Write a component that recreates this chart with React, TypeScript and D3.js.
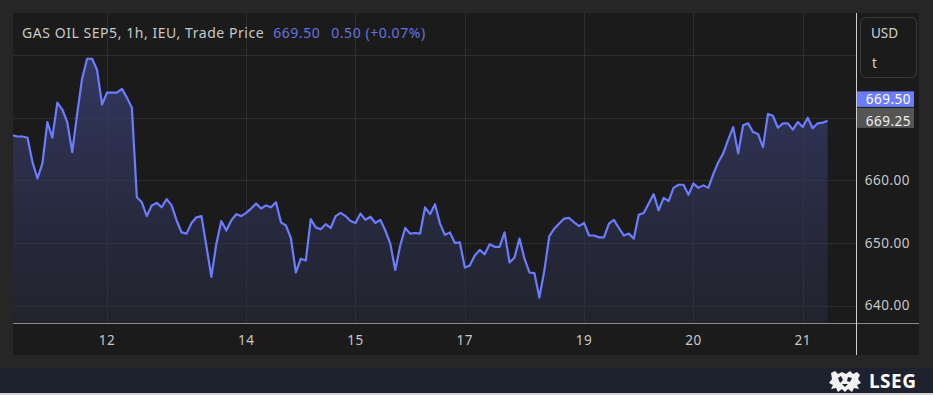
import React, { useRef, useEffect } from 'react';
import * as d3 from 'd3';

// hourly trade prices, GAS OIL SEP5
const prices = [
  667.2, 667.0, 667.0, 666.8, 662.9, 660.3, 662.7, 669.3, 666.8, 672.4,
  671.3, 669.3, 664.5, 670.7, 676.3, 679.4, 679.4, 677.6, 672.1, 674.0,
  674.0, 674.0, 674.6, 673.2, 671.6, 657.3, 656.5, 654.3, 656.0, 656.4,
  655.7, 657.0, 656.0, 653.6, 651.7, 651.5, 653.2, 654.1, 654.3, 649.5,
  644.6, 649.9, 653.5, 652.0, 653.6, 654.6, 654.3, 654.8, 655.5, 656.3,
  655.5, 656.0, 655.7, 656.5, 653.3, 652.8, 650.8, 645.3, 647.5, 647.2,
  653.8, 652.5, 652.2, 653.0, 652.4, 654.3, 654.8, 654.3, 653.5, 653.2,
  654.7, 653.7, 654.2, 653.2, 653.7, 652.0, 649.9, 645.7, 649.6, 652.4,
  651.5, 651.6, 651.5, 655.7, 654.6, 656.2, 653.1, 651.3, 651.7, 650.0,
  650.1, 646.1, 646.4, 648.0, 648.9, 648.2, 649.8, 649.4, 649.4, 651.7,
  646.9, 647.7, 650.7, 647.5, 645.3, 645.2, 641.3, 645.6, 651.1, 652.3,
  653.1, 653.9, 654.0, 653.3, 652.7, 653.2, 651.2, 651.2, 650.9, 650.9,
  653.1, 653.7, 652.4, 651.2, 651.5, 650.7, 654.5, 654.8, 656.3, 657.8,
  655.2, 657.2, 656.7, 658.8, 659.3, 659.3, 657.7, 659.5, 658.8, 659.2,
  658.8, 661.0, 662.9, 664.3, 666.5, 668.5, 664.3, 668.8, 669.1, 667.7,
  667.4, 665.3, 670.6, 670.3, 668.4, 669.1, 669.1, 668.1, 669.3, 668.5,
  670.0, 668.3, 669.1, 669.2, 669.5
];

// day labels and the bar index where each day starts
const dayLabels = ['12', '14', '15', '17', '19', '20', '21'];
const dayIndex = [19, 47, 69, 91, 115, 137, 159];

const priceTicks = [640, 650, 660];
const gridPrices = [640, 650, 660, 670, 680];

const lastPrice = 669.5;
const refPrice = 669.25;

function App() {
  const svgRef = useRef<SVGSVGElement>(null);

  useEffect(() => {
    document.body.style.margin = '0';
    document.body.style.background = '#262626';
    drawChart();
  }, []);

  const drawChart = () => {
    const svg = d3.select(svgRef.current);
    svg.selectAll('*').remove();

    const plot = { left: 13, right: 856, top: 13, bottom: 323 };
    const font = "'Noto Sans', 'Open Sans', sans-serif";
    const labelSize = '13.5px';
    const labelSpacing = '0.5px';

    const x = d3.scaleLinear().domain([0, prices.length - 1]).range([12.6, 827.6]);
    const y = d3.scaleLinear().domain([640, 680]).range([305.7, 55]);

    // page + panel backgrounds
    svg.append('rect').attr('width', 933).attr('height', 395).attr('fill', '#262626');
    svg.append('rect')
      .attr('x', 13).attr('y', 13).attr('width', 906).attr('height', 342)
      .attr('fill', '#1b1b1b');

    // footer
    svg.append('rect').attr('x', 0).attr('y', 368).attr('width', 933).attr('height', 26).attr('fill', '#1d222e');
    svg.append('rect').attr('x', 0).attr('y', 393).attr('width', 933).attr('height', 2).attr('fill', '#d6d6d6');

    const defs = svg.append('defs');
    defs.append('clipPath').attr('id', 'plot-clip')
      .append('rect')
      .attr('x', plot.left).attr('y', plot.top)
      .attr('width', plot.right - plot.left).attr('height', plot.bottom - plot.top);

    const grad = defs.append('linearGradient')
      .attr('id', 'area-grad').attr('x1', 0).attr('y1', 0).attr('x2', 0).attr('y2', 1);
    grad.append('stop').attr('offset', '0%').attr('stop-color', '#3a4278').attr('stop-opacity', 0.75);
    grad.append('stop').attr('offset', '100%').attr('stop-color', '#2a2d45').attr('stop-opacity', 0.45);

    // grid
    const grid = svg.append('g').attr('stroke', '#2e2e2e').attr('stroke-width', 1);
    grid.selectAll('line.h')
      .data(gridPrices)
      .join('line')
      .attr('x1', plot.left).attr('x2', plot.right)
      .attr('y1', d => Math.round(y(d)) + 0.5).attr('y2', d => Math.round(y(d)) + 0.5);
    grid.selectAll('line.v')
      .data(dayIndex)
      .join('line')
      .attr('y1', plot.top).attr('y2', plot.bottom)
      .attr('x1', d => Math.round(x(d)) + 0.5).attr('x2', d => Math.round(x(d)) + 0.5);

    // area + line
    const g = svg.append('g').attr('clip-path', 'url(#plot-clip)');
    const area = d3.area<number>()
      .x((d, i) => x(i))
      .y0(plot.bottom)
      .y1(d => y(d));
    const line = d3.line<number>()
      .x((d, i) => x(i))
      .y(d => y(d));

    g.append('path').datum(prices).attr('d', area).attr('fill', 'url(#area-grad)');
    g.append('path').datum(prices)
      .attr('d', line)
      .attr('fill', 'none')
      .attr('stroke', '#6b7cff')
      .attr('stroke-width', 2.2)
      .attr('stroke-linejoin', 'round');

    // axis lines
    svg.append('line')
      .attr('x1', plot.left).attr('x2', 919)
      .attr('y1', plot.bottom + 0.5).attr('y2', plot.bottom + 0.5)
      .attr('stroke', '#8c8c8c');
    svg.append('line')
      .attr('x1', plot.right + 0.5).attr('x2', plot.right + 0.5)
      .attr('y1', plot.top).attr('y2', 355)
      .attr('stroke', '#cfcfcf');

    // x labels
    svg.append('g')
      .selectAll('text')
      .data(dayLabels)
      .join('text')
      .attr('x', (d, i) => x(dayIndex[i]))
      .attr('y', 340)
      .attr('dy', '0.35em')
      .attr('text-anchor', 'middle')
      .style('font-family', font)
      .style('font-size', labelSize)
      .style('letter-spacing', labelSpacing)
      .style('fill', '#c8c8c8')
      .text(d => d);

    // y labels
    svg.append('g')
      .selectAll('text')
      .data(priceTicks)
      .join('text')
      .attr('x', 910)
      .attr('y', d => y(d))
      .attr('dy', '0.35em')
      .attr('text-anchor', 'end')
      .style('font-family', font)
      .style('font-size', labelSize)
      .style('letter-spacing', labelSpacing)
      .style('fill', '#c8c8c8')
      .text(d => d.toFixed(2));

    // currency / unit box
    svg.append('rect')
      .attr('x', 860.5).attr('y', 17.5).attr('width', 56).attr('height', 60).attr('rx', 5)
      .attr('fill', '#1b1b1b').attr('stroke', '#3a3a3a');
    svg.append('text')
      .attr('x', 871).attr('y', 33).attr('dy', '0.35em')
      .style('font-family', font).style('font-size', labelSize).style('fill', '#d0d0d0')
      .text('USD');
    svg.append('text')
      .attr('x', 872).attr('y', 63).attr('dy', '0.35em')
      .style('font-family', font).style('font-size', labelSize).style('fill', '#d0d0d0')
      .text('t');

    // price tags
    const refY = y(refPrice);
    svg.append('rect')
      .attr('x', plot.right + 1).attr('y', refY - 14.5).attr('width', 57).attr('height', 20)
      .attr('fill', '#555555');
    svg.append('text')
      .attr('x', 911).attr('y', refY - 1).attr('dy', '0.35em').attr('text-anchor', 'end')
      .style('font-family', font).style('font-size', labelSize).style('letter-spacing', labelSpacing)
      .style('fill', '#f0f0f0')
      .text(refPrice.toFixed(2));
    svg.append('rect')
      .attr('x', plot.right + 1).attr('y', refY - 31).attr('width', 57).attr('height', 15.5)
      .attr('fill', '#6b7cff');
    svg.append('text')
      .attr('x', 911).attr('y', refY - 23).attr('dy', '0.35em').attr('text-anchor', 'end')
      .style('font-family', font).style('font-size', labelSize).style('letter-spacing', labelSpacing)
      .style('fill', '#ffffff')
      .text(lastPrice.toFixed(2));

    // title
    const title = svg.append('text')
      .attr('x', 22).attr('y', 33).attr('dy', '0.35em')
      .style('font-family', font).style('font-size', '14px').style('letter-spacing', '0.55px');
    title.append('tspan').style('fill', '#c8c8c8').text('GAS OIL SEP5, 1h, IEU, Trade Price');
    title.append('tspan').attr('dx', 9).style('fill', '#6673e0').text(lastPrice.toFixed(2));
    title.append('tspan').attr('dx', 11).style('fill', '#6673e0')
      .text(`${(lastPrice - 669.0).toFixed(2)} (+0.07%)`);

    // LSEG logo
    const logo = svg.append('g').attr('transform', 'translate(829, 370)');
    logo.append('path')
      .attr('d', 'M2 3 L6 1 L9 4 L13 2 L17 4 L21 1 L24 4 L28 2 L31 5 L29 9 L32 13 L28 15 L30 19 L25 18 L23 22 L19 19 L16 22 L13 19 L9 22 L7 18 L2 19 L4 15 L0 13 L3 9 Z')
      .attr('fill', '#f2f2f2');
    logo.append('path')
      .attr('d', 'M9 8 L12 6 L14 10 L11 13 Z M19 7 L23 8 L21 12 L18 11 Z M13 14 L19 14 L16 17 Z')
      .attr('fill', '#1d222e');
    svg.append('text')
      .attr('x', 869).attr('y', 381).attr('dy', '0.35em')
      .style('font-family', font).style('font-size', '19px').style('font-weight', 'bold')
      .style('letter-spacing', '0.5px')
      .style('fill', '#ffffff')
      .text('LSEG');
  };

  return (
    <div style={{ width: 933, height: 395 }}>
      <svg ref={svgRef} width={933} height={395} style={{ display: 'block' }} />
    </div>
  );
}

export default App;
